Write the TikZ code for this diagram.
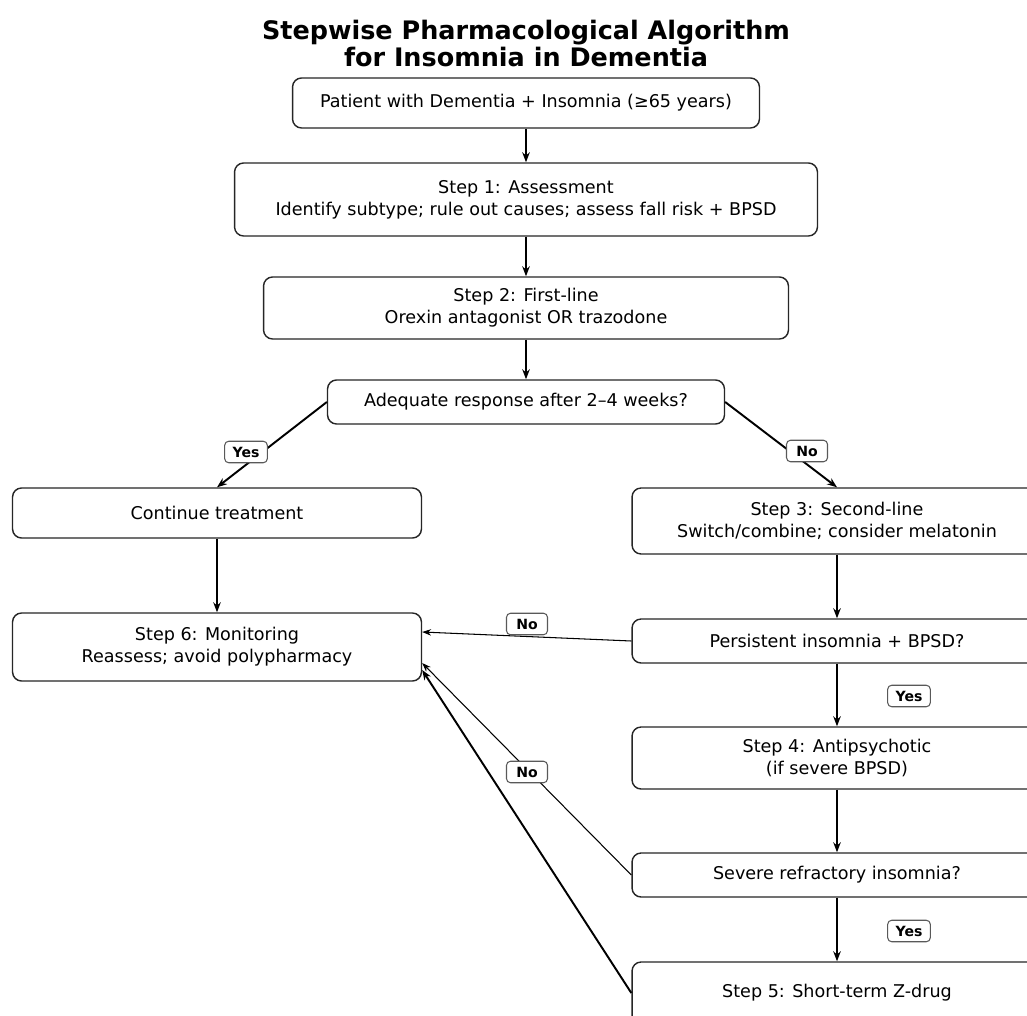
\documentclass[tikz,border=0pt]{standalone}
\usepackage{fontspec}
\setmainfont{DejaVu Sans}
\usepackage{tikz}
\usetikzlibrary{positioning,calc,arrows.meta}

\tikzset{
  stepbox/.style={draw=black!85, line width=0.8pt, rounded corners=0.18cm, align=center,
    inner sep=0pt, font=\fontsize{10}{12.5}\selectfont, minimum width=8.2cm},
  answer/.style={draw=black!65, fill=white, line width=0.6pt, rounded corners=0.08cm,
    font=\bfseries\fontsize{8}{9}\selectfont, inner xsep=4.5pt, inner ysep=0pt,
    minimum width=0.82cm, minimum height=0.43cm},
  flow/.style={-{Stealth[length=2mm,width=1.5mm]}, line width=1.1pt},
  thinflow/.style={-{Stealth[length=1.8mm,width=1.3mm]}, line width=0.6pt},
}

\begin{document}
\begin{tikzpicture}[x=0.02cm,y=-0.02cm]
\clip (0,0) rectangle (1027,1016);
\fill[white] (0,0) rectangle (1027,1016);

%title
\node[align=center, font=\bfseries\fontsize{14.5}{15.4}\selectfont] (title) at (526,43.5)
  {Stepwise Pharmacological Algorithm\\for Insomnia in Dementia};

%main column
\node[stepbox, minimum width=9.34cm, minimum height=1cm] (patient) at (526,103)
  {Patient with Dementia + Insomnia (≥65 years)};
\node[stepbox, minimum width=11.66cm, minimum height=1.46cm] (step1) at (526,199.5)
  {Step 1: Assessment\\Identify subtype; rule out causes; assess fall risk + BPSD};
\node[stepbox, minimum width=10.5cm, minimum height=1.24cm] (step2) at (526,308)
  {Step 2: First-line\\Orexin antagonist OR trazodone};
\node[stepbox, minimum width=7.94cm, minimum height=0.88cm] (adequate) at (526,402)
  {Adequate response after 2–4 weeks?};

%left column
\node[stepbox, minimum width=8.18cm, minimum height=1cm] (cont) at (217,513)
  {Continue treatment};
\node[stepbox, minimum width=8.18cm, minimum height=1.36cm] (step6) at (217,647)
  {Step 6: Monitoring\\Reassess; avoid polypharmacy};

%right column
\node[stepbox, minimum height=1.32cm] (step3) at (837,521)
  {Step 3: Second-line\\Switch/combine; consider melatonin};
\node[stepbox, minimum height=0.88cm] (persist) at (837,641)
  {Persistent insomnia + BPSD?};
\node[stepbox, minimum height=1.24cm] (step4) at (837,758)
  {Step 4: Antipsychotic\\(if severe BPSD)};
\node[stepbox, minimum height=0.88cm] (severe) at (837,875)
  {Severe refractory insomnia?};
\node[stepbox, minimum height=1.24cm] (step5) at (837,993)
  {Step 5: Short-term Z-drug};

%arrows
\draw[flow] (patient) -- (step1);
\draw[flow] (step1) -- (step2);
\draw[flow] (step2) -- (adequate);
\draw[flow] (adequate.west) -- (cont.north);
\draw[flow] (adequate.east) -- (step3.north);
\draw[flow] (cont) -- (step6);
\draw[flow] (step3) -- (persist);
\draw[flow] (persist) -- (step4);
\draw[flow] (step4) -- (severe);
\draw[flow] (severe) -- (step5);
\draw[thinflow] (persist.west) -- ([yshift=0.3cm]step6.east);
\draw[thinflow] (severe.west) -- ([yshift=-0.32cm]step6.east);
\draw[flow] (step5.west) -- ([yshift=-0.46cm]step6.east);

%labels
\node[answer] (yes1) at (246,452) {Yes};
\node[answer] (no1) at (807,451) {No};
\node[answer] (no2) at (527,624) {No};
\node[answer] (yes2) at (909,696) {Yes};
\node[answer] (no3) at (527,772) {No};
\node[answer] (yes3) at (909,931) {Yes};
\end{tikzpicture}
\end{document}
